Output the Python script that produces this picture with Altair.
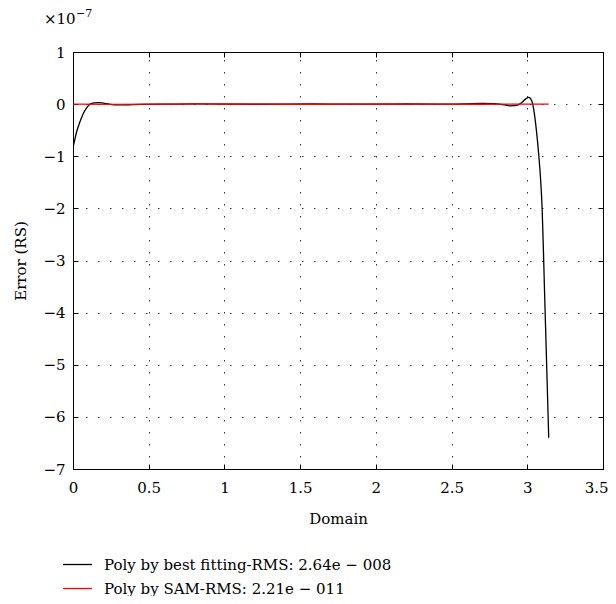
import altair as alt
import pandas as pd

# Black: Poly by best fitting (values in units of 1e-7)
best_x = [0.0, 0.012, 0.024, 0.046, 0.068, 0.09, 0.112, 0.14, 0.167, 0.2, 0.24, 0.29, 0.35, 0.45,
          0.6, 0.8, 1.0, 1.2, 1.4, 1.6, 1.8, 2.0, 2.2, 2.4, 2.5, 2.6, 2.7, 2.78, 2.84, 2.89, 2.93,
          2.96, 2.99, 3.01, 3.03, 3.045, 3.06, 3.075, 3.088, 3.098, 3.106, 3.114, 3.124, 3.1416]
best_y = [-0.83, -0.68, -0.53, -0.34, -0.18, -0.07, 0.0, 0.025, 0.03, 0.02, 0.0, -0.015, -0.012, -0.003,
          0.0, 0.003, 0.0, -0.002, 0.0, 0.002, 0.0, 0.0, 0.002, 0.0, 0.0, 0.005, 0.012, 0.01, -0.01, -0.033, -0.025,
          0.02, 0.1, 0.13, 0.06, -0.15, -0.5, -0.95, -1.45, -2.0, -2.75, -3.6, -4.6, -6.4]

# Red: Poly by SAM
sam_x = [0.0, 0.3, 0.6, 0.9, 1.2, 1.5, 1.8, 2.1, 2.4, 2.7, 3.0, 3.1416]
sam_y = [0.0, -0.005, 0.0, 0.003, 0.0, -0.002, 0.0, 0.002, 0.0, -0.002, 0.0, 0.0]

series_names = ["Poly by best fitting-RMS: 2.64e \u2212 008", "Poly by SAM-RMS: 2.21e \u2212 011"]
series_colors = ["#000000", "#ff0000"]

x_ticks = [0, 0.5, 1, 1.5, 2, 2.5, 3, 3.5]
y_ticks = [-7, -6, -5, -4, -3, -2, -1, 0, 1]

rows = []
for i, (xv, yv) in enumerate(zip(best_x, best_y)):
    rows.append({"series": series_names[0], "x": xv, "y": yv, "i": i})
for i, (xv, yv) in enumerate(zip(sam_x, sam_y)):
    rows.append({"series": series_names[1], "x": xv, "y": yv, "i": i})
df = pd.DataFrame(rows)

FONT = "DejaVu Serif"

xscale = alt.Scale(domain=[0, 3.5], nice=False, zero=False)
yscale = alt.Scale(domain=[-7, 1], nice=False, zero=False)

last_x = "datum.value >= 3.5"

lines = alt.Chart(df).mark_line(strokeWidth=1.3, clip=True, interpolate="monotone").encode(
    x=alt.X("x:Q", scale=xscale,
            axis=alt.Axis(values=x_ticks, title="Domain", format="~g", offset=-5, tickSize=5,
                          domain=False, grid=False, labelPadding=11, titlePadding=16,
                          tickColor="black", labelFlush=False,
                          labelAlign={"condition": {"test": last_x, "value": "right"}, "value": "center"},
                          labelOffset={"condition": {"test": last_x, "value": 5}, "value": 0})),
    y=alt.Y("y:Q", scale=yscale,
            axis=alt.Axis(values=y_ticks, title="Error (RS)", format="~g", offset=-5, tickSize=5,
                          domain=False, grid=False, labelPadding=8, titlePadding=14,
                          tickColor="black")),
    color=alt.Color("series:N", scale=alt.Scale(domain=series_names, range=series_colors),
                    sort=series_names,
                    legend=alt.Legend(orient="none", legendX=-11, legendY=497, title=None,
                                      symbolType="stroke", symbolSize=841, symbolStrokeWidth=1.3,
                                      labelFont=FONT, labelFontSize=15, labelColor="black",
                                      labelOffset=11, rowPadding=0, padding=0, labelLimit=600)),
    order="i:Q",
)

frame = alt.Chart(df).mark_line(opacity=0).encode(
    x=alt.X("x:Q", scale=xscale,
            axis=alt.Axis(values=x_ticks, orient="top", title=None, labels=False, offset=-5,
                          tickSize=5, domain=False, grid=True, tickColor="black")),
    y=alt.Y("y:Q", scale=yscale,
            axis=alt.Axis(values=y_ticks, orient="right", title=None, labels=False, offset=-5,
                          tickSize=5, domain=False, grid=True, tickColor="black")),
    detail="series:N",
)

t1 = alt.Chart(pd.DataFrame({"t": ["\u00d710"]})).mark_text(
    font=FONT, fontSize=15, align="left", baseline="alphabetic", color="black"
).encode(x=alt.value(-29), y=alt.value(-28), text="t:N")
t2 = alt.Chart(pd.DataFrame({"t": ["\u22127"]})).mark_text(
    font=FONT, fontSize=11, align="left", baseline="alphabetic", color="black"
).encode(x=alt.value(3), y=alt.value(-35), text="t:N")

chart = alt.layer(frame, lines, t1, t2).resolve_axis(x="independent", y="independent").properties(
    width=530, height=417,
    background="white",
    autosize=alt.AutoSizeParams(type="none"),
    padding={"left": 65, "top": 44, "right": 5, "bottom": 127},
).configure_view(stroke="black", strokeWidth=1).configure_axis(
    labelFont=FONT, titleFont=FONT, labelFontSize=15, titleFontSize=15,
    labelColor="black", titleColor="black", titleFontWeight="normal",
    gridColor="black", gridDash=[1.5, 10.5], gridWidth=1, gridOpacity=0.8,
)

chart.save("out.html", embed_options={"renderer": "svg", "actions": False})
